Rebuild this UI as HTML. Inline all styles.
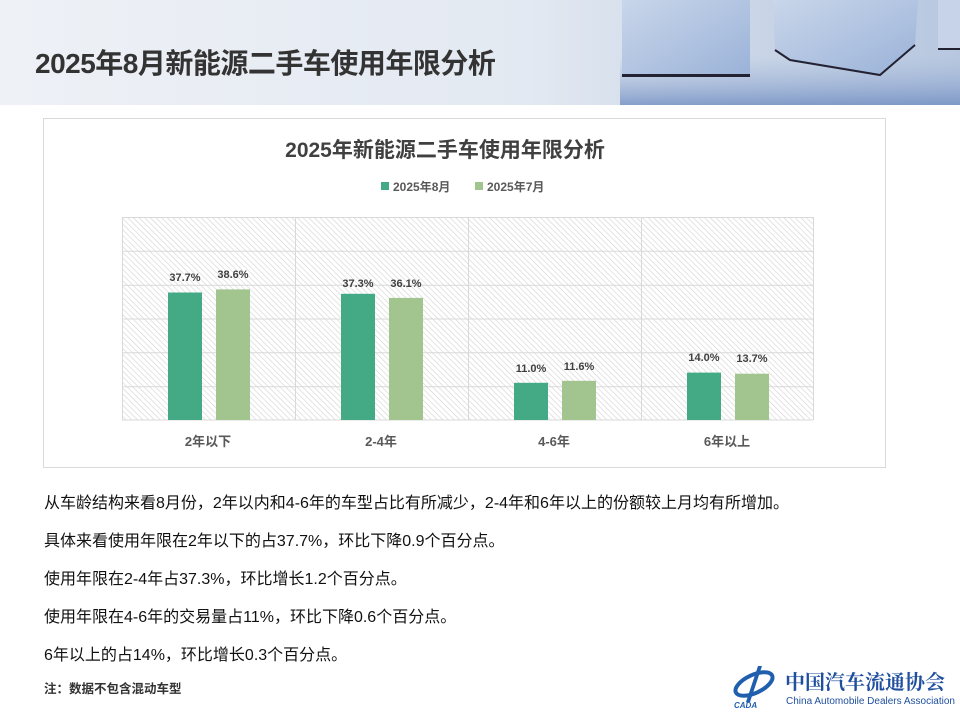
<!DOCTYPE html>
<html><head><meta charset="utf-8"><style>
body{margin:0;width:960px;height:720px;overflow:hidden;background:#fff;font-family:"Liberation Sans","Noto Sans CJK SC",sans-serif;position:relative}
.hdr{position:absolute;left:0;top:0;width:960px;height:105px;background:linear-gradient(90deg,#eef1f6 0%,#e3e9f2 55%,#cdd8e8 75%,#b7c7df 100%)}
.title{position:absolute;left:35px;top:42px;font-size:28px;font-weight:bold;color:#333;letter-spacing:-0.5px}
.t{position:absolute;left:44px;font-size:16px;color:#111;white-space:nowrap}
</style></head><body>
<div class="hdr"></div>
<svg style="position:absolute;left:0;top:0" width="960" height="105">
<defs><linearGradient id="cb" x1="0" y1="0" x2="1" y2="1"><stop offset="0" stop-color="#c9d6ea"/><stop offset="1" stop-color="#9ab2d8"/></linearGradient>
<linearGradient id="fl" x1="0" y1="0" x2="0" y2="1"><stop offset="0" stop-color="#9fb4d8" stop-opacity="0"/><stop offset="1" stop-color="#6a89bf" stop-opacity="0.75"/></linearGradient></defs>
<rect x="620" y="55" width="340" height="50" fill="url(#fl)"/>
<rect x="622" y="0" width="128" height="77" fill="url(#cb)"/>
<rect x="622" y="74" width="128" height="3" fill="#223"/>
<path d="M773 0 L918 0 L915 45 L880 75 L790 60 L775 50 Z" fill="url(#cb)"/>
<path d="M775 50 L790 60 L880 75 L915 45" stroke="#223" stroke-width="2" fill="none"/>
<rect x="938" y="0" width="22" height="50" fill="#c6d3e8"/>
<rect x="938" y="48" width="22" height="2" fill="#223"/>
</svg>
<div class="title">2025年8月新能源二手车使用年限分析</div>
<svg style="position:absolute;left:0;top:0" width="960" height="720">
<defs><pattern id="h" width="4" height="4" patternUnits="userSpaceOnUse" patternTransform="rotate(-45)"><rect width="4" height="4" fill="#fff"/><line x1="0" y1="0" x2="0" y2="4" stroke="#d2d2d2" stroke-width="1.2"/></pattern></defs>
<rect x="43.5" y="118.5" width="842" height="349" fill="#fff" stroke="#d9d9d9"/>
<text x="445" y="157" text-anchor="middle" font-size="21" font-weight="bold" fill="#404040">2025年新能源二手车使用年限分析</text>
<rect x="381" y="182" width="8" height="8" fill="#43aa85"/><text x="393" y="191" font-size="12" font-weight="bold" fill="#595959">2025年8月</text>
<rect x="475" y="182" width="8" height="8" fill="#a2c48f"/><text x="487" y="191" font-size="12" font-weight="bold" fill="#595959">2025年7月</text>
<rect x="122" y="217" width="691" height="203" fill="url(#h)"/>
<g stroke="#d9d9d9" stroke-width="1">
<line x1="122" y1="217.5" x2="813" y2="217.5"/><line x1="122" y1="251.3" x2="813" y2="251.3"/><line x1="122" y1="285.2" x2="813" y2="285.2"/><line x1="122" y1="319" x2="813" y2="319"/><line x1="122" y1="352.8" x2="813" y2="352.8"/><line x1="122" y1="386.7" x2="813" y2="386.7"/><line x1="122" y1="420" x2="813" y2="420"/>
<line x1="122.5" y1="217" x2="122.5" y2="420"/><line x1="295.5" y1="217" x2="295.5" y2="420"/><line x1="468.5" y1="217" x2="468.5" y2="420"/><line x1="641.5" y1="217" x2="641.5" y2="420"/><line x1="813.5" y1="217" x2="813.5" y2="420"/>
</g>
<g fill="#43aa85"><rect x="168" y="292.5" width="34" height="127.5"/><rect x="341" y="293.8" width="34" height="126.2"/><rect x="514" y="382.8" width="34" height="37.2"/><rect x="687" y="372.6" width="34" height="47.4"/></g>
<g fill="#a2c48f"><rect x="216" y="289.4" width="34" height="130.6"/><rect x="389" y="297.9" width="34" height="122.1"/><rect x="562" y="380.8" width="34" height="39.2"/><rect x="735" y="373.7" width="34" height="46.3"/></g>
<g font-size="11" font-weight="bold" fill="#404040" text-anchor="middle">
<text x="185" y="281">37.7%</text><text x="233" y="278">38.6%</text>
<text x="358" y="287">37.3%</text><text x="406" y="287">36.1%</text>
<text x="531" y="372">11.0%</text><text x="579" y="370">11.6%</text>
<text x="704" y="361">14.0%</text><text x="752" y="362">13.7%</text>
</g>
<g font-size="13" font-weight="bold" fill="#595959" text-anchor="middle">
<text x="208" y="446">2年以下</text><text x="381" y="446">2-4年</text><text x="554" y="446">4-6年</text><text x="727" y="446">6年以上</text>
</g>
<g transform="translate(732,662)">
<ellipse cx="22" cy="22" rx="20" ry="9" fill="none" stroke="#1f5fae" stroke-width="4" transform="rotate(-25 22 22)"/>
<path d="M26 4 L30 4 L18 40 L14 40 Z" fill="#1f5fae"/>
<text x="2" y="46" font-size="8" font-weight="bold" font-style="italic" fill="#1f5fae">CADA</text>
</g>
<text x="785" y="689" font-size="20" font-weight="bold" fill="#1f4f9e" font-family="Noto Serif CJK SC,serif">中国汽车流通协会</text>
<text x="786" y="704" font-size="10" fill="#1f4f9e">China Automobile Dealers Association</text>
</svg>
<div class="t" style="top:489px">从车龄结构来看8月份，2年以内和4-6年的车型占比有所减少，2-4年和6年以上的份额较上月均有所增加。</div>
<div class="t" style="top:527px">具体来看使用年限在2年以下的占37.7%，环比下降0.9个百分点。</div>
<div class="t" style="top:565px">使用年限在2-4年占37.3%，环比增长1.2个百分点。</div>
<div class="t" style="top:603px">使用年限在4-6年的交易量占11%，环比下降0.6个百分点。</div>
<div class="t" style="top:641px">6年以上的占14%，环比增长0.3个百分点。</div>
<div class="t" style="top:678px;font-size:12.5px;font-weight:bold;color:#333">注：数据不包含混动车型</div>
</body></html>
